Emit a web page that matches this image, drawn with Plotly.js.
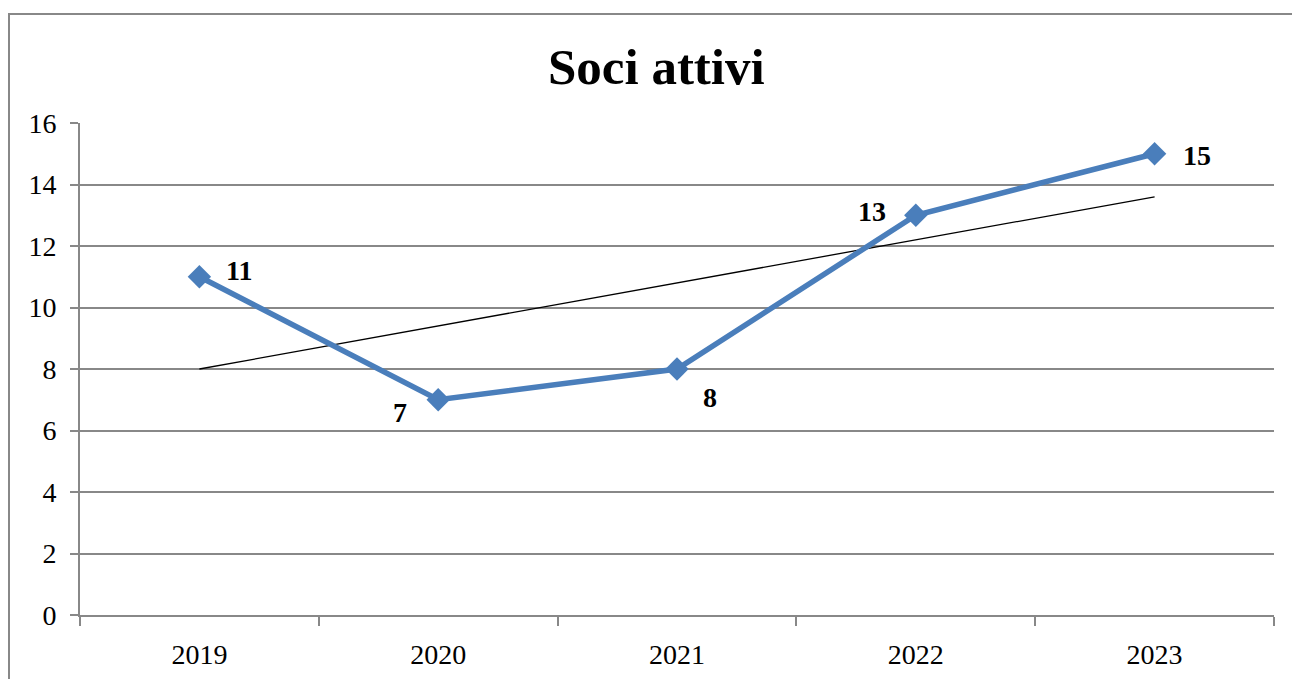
<!DOCTYPE html>
<html>
<head>
<meta charset="utf-8">
<script src="https://cdn.plot.ly/plotly-3.0.1.min.js"></script>
<style>html,body{margin:0;padding:0;background:#fff;}#chart{width:1292px;height:679px;}#err{position:absolute;left:300px;top:300px;color:red;font:14px sans-serif;}</style>
</head>
<body>
<div id="chart"></div>
<div id="err"></div>
<script>
var years = ["2019", "2020", "2021", "2022", "2023"];
var soci = [11, 7, 8, 13, 15];
var trend = [8.0, 9.4, 10.8, 12.2, 13.6];
var labelShiftX = [40, -38, 33, -44, 42];
var labelShiftY = [6, -13, -28, 4, -2];

var serif = "Liberation Serif";

var traces = [
  {
    x: years, y: trend, type: "scatter", mode: "lines",
    line: {color: "#000000", width: 1.3}, hoverinfo: "skip", showlegend: false
  },
  {
    x: years, y: soci, type: "scatter", mode: "lines+markers",
    line: {color: "#4a7ebb", width: 5.5},
    marker: {symbol: "diamond", size: 18, color: "#4a7ebb"},
    showlegend: false
  }
];

var annotations = [];
for (var i = 0; i < years.length; i++) {
  annotations.push({
    x: i, y: soci[i], xref: "x", yref: "y",
    text: "<b>" + String(soci[i]) + "</b>",
    showarrow: false, xshift: labelShiftX[i], yshift: labelShiftY[i],
    xanchor: "center", yanchor: "middle",
    font: {family: serif, size: 28, color: "#000000"}
  });
}

var layout = {
  width: 1292, height: 679,
  margin: {l: 80, r: 18, t: 123, b: 64},
  paper_bgcolor: "#ffffff", plot_bgcolor: "#ffffff",
  title: {
    text: "<b>Soci attivi</b>",
    font: {family: serif, size: 51, color: "#000"},
    x: 0.508, xanchor: "center", y: 1 - 66 / 679, yanchor: "middle", yref: "container"
  },
  xaxis: {
    type: "category", range: [-0.5, 4.5],
    tickson: "boundaries", ticks: "outside", ticklen: 9, tickcolor: "#888888", tickwidth: 2,
    showgrid: false, showline: true, linecolor: "#888888", linewidth: 2,
    tickfont: {family: serif, size: 28, color: "#000"},
    ticklabelstandoff: 13,
    zeroline: false, fixedrange: true
  },
  yaxis: {
    range: [0, 16], dtick: 2, tick0: 0,
    ticks: "outside", ticklen: 8, tickcolor: "#888888", tickwidth: 2,
    showgrid: true, gridcolor: "#888888", gridwidth: 2,
    showline: true, linecolor: "#888888", linewidth: 2,
    tickfont: {family: serif, size: 28, color: "#000"},
    ticklabelstandoff: 8,
    zeroline: false, fixedrange: true
  },
  shapes: [{
    type: "rect", xref: "paper", yref: "paper",
    x0: (9 - 80) / 1194, x1: (1300 - 80) / 1194,
    y0: (615 - 700) / 492, y1: (615 - 14) / 492,
    line: {color: "#888888", width: 2}, fillcolor: "rgba(0,0,0,0)", layer: "below"
  }],
  annotations: annotations
};

try {
  Plotly.newPlot("chart", traces, layout, {displayModeBar: false, staticPlot: true}).catch(function (e) {
    document.getElementById("err").textContent = "ERR " + e;
  });
} catch (e) {
  document.getElementById("err").textContent = "ERR " + e;
}
</script>
</body>
</html>
